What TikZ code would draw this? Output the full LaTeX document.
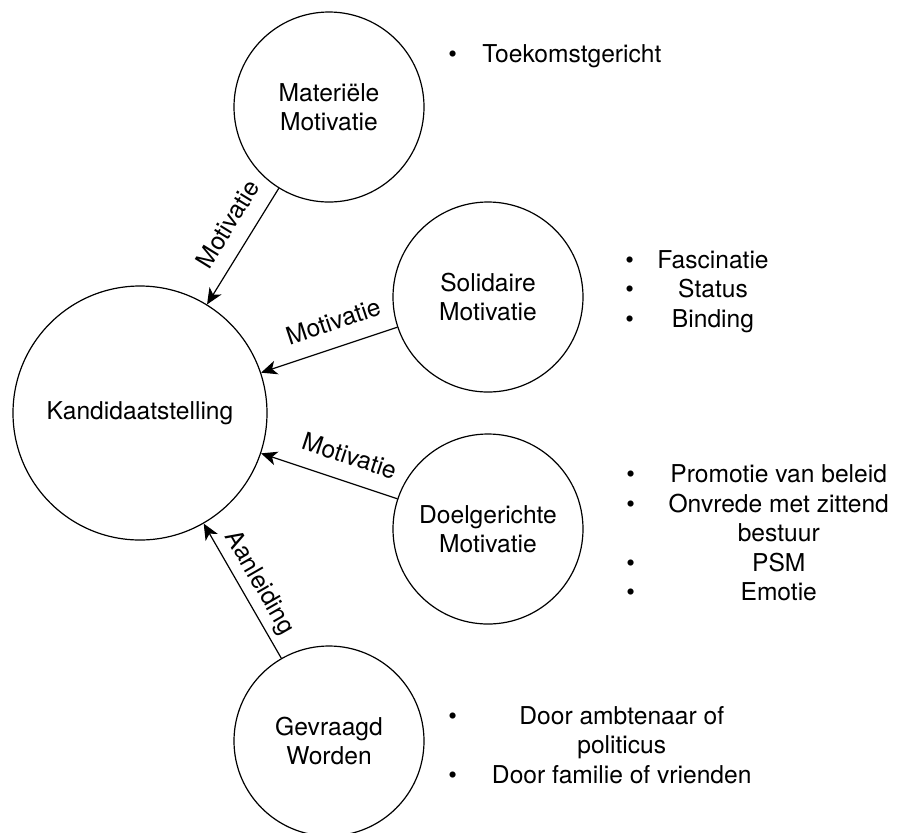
\documentclass[tikz,border=0pt]{standalone}
\usepackage{fontspec}
\setmainfont{TeX Gyre Heros}
\usepackage{tikz}
\usetikzlibrary{
	calc,
	arrows.meta,
	positioning
	}
\tikzstyle{cirkel-std}=[draw,circle,line width=0.6pt,minimum size=95pt,inner sep=0pt,align=center]
\tikzstyle{cirkel-groot}=[cirkel-std,minimum size=127pt]
\tikzstyle{pijl-std}=[line width=0.6pt,-{Stealth[length=8pt,width=7pt,inset=2.2pt]}]
\tikzstyle{etiket-std}=[sloped,inner sep=0pt]
\tikzstyle{lijst-std}=[anchor=west,inner sep=0pt]
\newcommand{\opsomming}[2]{\begin{tabular}{@{}c@{\hspace{#1}}c@{}}#2\end{tabular}}

\begin{document}
\begin{tikzpicture}[x=0.5pt,y=-0.5pt,font=\fontsize{12.3}{14.75}\selectfont]
\useasboundingbox (0,0) rectangle (900,832);

\node[cirkel-groot] (kand) at (140,413) {Kandidaatstelling};
\node[cirkel-std] (mat) at (329,107) {Materiële\\Motivatie};
\node[cirkel-std] (sol) at (488,297) {Solidaire\\Motivatie};
\node[cirkel-std] (doel) at (488,529) {Doelgerichte\\Motivatie};
\node[cirkel-std] (gev) at (329,741) {Gevraagd\\Worden};

\draw[pijl-std] (mat) -- node[etiket-std,pos=0.42,above=7.5pt] {Motivatie} (kand);
\draw[pijl-std] (sol) -- node[etiket-std,pos=0.41,above=8pt] {Motivatie} (kand);
\draw[pijl-std] (doel) -- node[etiket-std,pos=0.41,above=8pt] {Motivatie} (kand);
\draw[pijl-std] (gev) -- node[etiket-std,pos=0.49,above=3pt] {Aanleiding} (kand);

\node[lijst-std] (lijst-mat) at (448,57) {\opsomming{12.7pt}{\textbullet & Toekomstgericht}};
\node[lijst-std] (lijst-sol) at (625,292) {\opsomming{11.7pt}{\textbullet & Fascinatie\\ \textbullet & Status\\ \textbullet & Binding}};
\node[lijst-std] (lijst-doel) at (626,536) {\opsomming{16.8pt}{\textbullet & Promotie van beleid\\ \textbullet & Onvrede met zittend\\ & bestuur\\ \textbullet & PSM\\ \textbullet & Emotie}};
\node[lijst-std] (lijst-gev) at (448,748) {\opsomming{17.5pt}{\textbullet & Door ambtenaar of\\ & politicus\\ \textbullet & Door familie of vrienden}};
\end{tikzpicture}
\end{document}
